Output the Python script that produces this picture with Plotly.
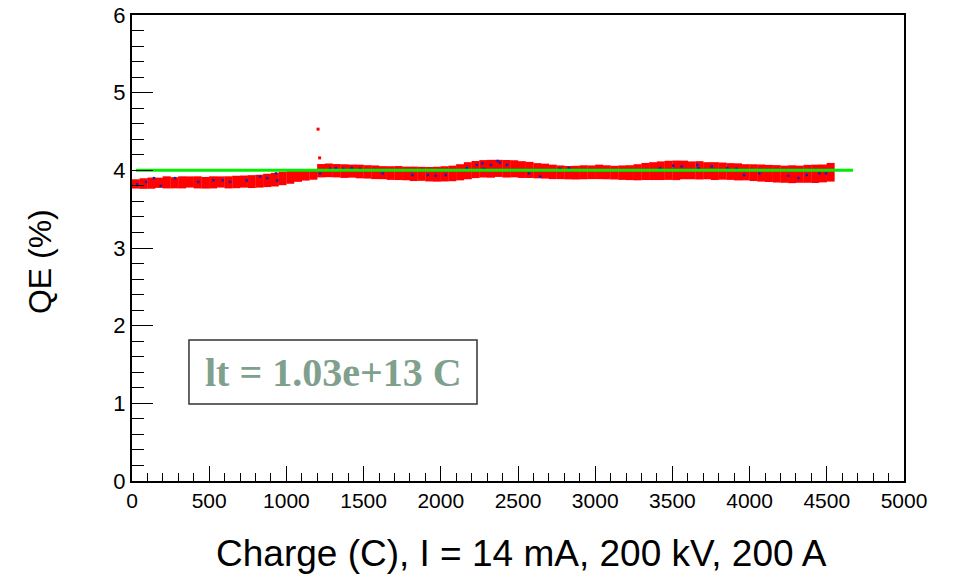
import plotly.graph_objects as go

# Charge (C) sampling positions
charge = list(range(25, 4576, 50))

# QE (%) central values
qe = [
    3.825, 3.83, 3.835, 3.84, 3.845, 3.84, 3.845, 3.85, 3.845, 3.84,
    3.845, 3.85, 3.845, 3.85, 3.855, 3.855, 3.86, 3.87, 3.88, 3.895,
    3.91, 3.93, 3.94, 3.945, 3.995, 4.0, 3.995, 3.99, 3.99, 3.985,
    3.98, 3.975, 3.97, 3.965, 3.965, 3.96, 3.955, 3.955, 3.95, 3.95,
    3.955, 3.96, 3.975, 3.995, 4.01, 4.02, 4.02, 4.025, 4.02, 4.02,
    4.01, 4.005, 3.995, 3.99, 3.98, 3.975, 3.97, 3.97, 3.975, 3.975,
    3.98, 3.975, 3.97, 3.97, 3.97, 3.975, 3.985, 3.99, 3.995, 4.0,
    4.0, 4.005, 4.0, 4.0, 3.995, 3.99, 3.99, 3.985, 3.98, 3.975,
    3.97, 3.965, 3.96, 3.955, 3.95, 3.95, 3.95, 3.955, 3.955, 3.96,
    3.975,
]

# QE spread (half-width of error bars)
qe_err = [
    0.06, 0.068, 0.072, 0.066, 0.078, 0.072, 0.078, 0.072, 0.078, 0.075,
    0.078, 0.072, 0.078, 0.08, 0.078, 0.083, 0.083, 0.086, 0.088, 0.086,
    0.083, 0.078, 0.072, 0.066, 0.086, 0.088, 0.086, 0.088, 0.084, 0.088,
    0.086, 0.088, 0.084, 0.088, 0.09, 0.088, 0.093, 0.09, 0.093, 0.096,
    0.098, 0.1, 0.104, 0.11, 0.11, 0.112, 0.115, 0.11, 0.113, 0.11,
    0.108, 0.104, 0.098, 0.096, 0.093, 0.088, 0.086, 0.088, 0.09, 0.088,
    0.093, 0.09, 0.088, 0.093, 0.096, 0.104, 0.11, 0.115, 0.12, 0.123,
    0.126, 0.12, 0.115, 0.118, 0.11, 0.115, 0.11, 0.108, 0.11, 0.104,
    0.108, 0.11, 0.11, 0.112, 0.11, 0.115, 0.11, 0.115, 0.118, 0.115,
    0.12,
]

# individually visible (blue) point markers
dot_charge = [34, 91, 142, 186, 278, 430, 527, 587, 635, 743, 829, 876, 933, 941,
              1218, 1282, 1321, 1369, 1423, 1477, 1624, 1816, 1915, 1967, 2032,
              2168, 2232, 2269, 2278, 2325, 2368, 2383, 2429, 2571, 2645, 2772,
              2830, 3420, 3506, 3560, 3661, 3668, 3755, 3856, 3916, 3964, 4063,
              4251, 4316, 4370, 4452, 4495]
dot_qe = [3.82, 3.85, 3.90, 3.80, 3.90, 3.85, 3.87, 3.87, 3.85, 3.87, 3.92, 3.90, 3.96, 3.87,
          3.96, 4.02, 4.03, 4.02, 4.03, 4.02, 3.96, 3.94, 3.94, 3.93, 3.94,
          4.03, 4.07, 4.09, 4.02, 4.07, 4.12, 4.10, 4.07, 3.96, 3.92, 4.02,
          4.03, 4.03, 4.06, 4.05, 4.07, 4.03, 4.05, 4.03, 4.02, 3.94, 3.96,
          3.93, 3.90, 3.94, 3.96, 3.96]

# isolated outlier points
outlier_charge = [1205, 1215]
outlier_qe = [4.53, 4.16]

# constant fit
fit_range = [25, 4670]
fit_value = 4.0

box_text = "lt = 1.03e+13 C"
x_title = "Charge (C), I = 14 mA, 200 kV, 200 A"
y_title = "QE (%)"

fig = go.Figure()

fig.add_trace(go.Scatter(
    x=charge, y=qe, mode="markers",
    marker=dict(color="rgba(0,0,0,0)", size=1),
    error_y=dict(type="data", array=qe_err, visible=True,
                 color="#ff0000", thickness=8, width=0),
    showlegend=False,
))

fig.add_trace(go.Scatter(
    x=dot_charge, y=dot_qe, mode="markers",
    marker=dict(color="#2020b0", size=2.5, symbol="square"),
    showlegend=False,
))

fig.add_trace(go.Scatter(
    x=outlier_charge, y=outlier_qe, mode="markers",
    marker=dict(color="#ff0000", size=3, symbol="square"),
    showlegend=False,
))

fig.add_trace(go.Scatter(
    x=fit_range, y=[fit_value, fit_value], mode="lines",
    line=dict(color="#00ee00", width=3),
    showlegend=False,
))

axis_font = dict(family="Liberation Sans, Arial, sans-serif", color="black")

fig.update_layout(
    width=958, height=577,
    margin=dict(l=132, r=54, t=15, b=96, autoexpand=False),
    paper_bgcolor="white", plot_bgcolor="white",
    xaxis=dict(
        range=[0, 5000], dtick=500, tick0=0, automargin=False,
        ticks="inside", ticklen=15, tickwidth=1, tickcolor="black",
        showline=True, linecolor="black", linewidth=2, mirror=True,
        showgrid=False, zeroline=False,
        tickfont=dict(size=21, **axis_font),
        minor=dict(dtick=100, ticks="inside", ticklen=8, tickcolor="black", showgrid=False),
    ),
    yaxis=dict(
        range=[0, 6], dtick=1, tick0=0, automargin=False,
        ticks="inside", ticklen=21, tickwidth=1, tickcolor="black",
        showline=True, linecolor="black", linewidth=2, mirror=True,
        showgrid=False, zeroline=False,
        tickfont=dict(size=22, **axis_font),
        minor=dict(dtick=0.2, ticks="inside", ticklen=12, tickcolor="black", showgrid=False),
    ),
    shapes=[
        dict(type="rect", xref="paper", yref="paper",
             x0=0.0738, x1=0.4469, y0=0.1652, y1=0.3026,
             line=dict(color="#333333", width=1.5), fillcolor="white", layer="above"),
    ],
    annotations=[
        dict(text=box_text, xref="paper", yref="paper", x=0.2604, y=0.2339,
             xanchor="center", yanchor="middle", showarrow=False,
             font=dict(family="Liberation Serif, Times New Roman, serif", size=40,
                       color="#7fa08c", weight="bold")),
        dict(text=x_title, xref="paper", yref="paper", x=0.505, y=-0.155,
             xanchor="center", yanchor="middle", showarrow=False,
             font=dict(size=37, **axis_font)),
        dict(text=y_title, xref="paper", yref="paper", x=-0.119, y=0.47,
             xanchor="center", yanchor="middle", showarrow=False, textangle=-90,
             font=dict(size=32, **axis_font)),
    ],
)

fig.write_html("out.html", config={"displayModeBar": False})

# remove the default page margin so the figure sits at the window origin
with open("out.html", "r", encoding="utf-8") as f:
    html = f.read()
html = html.replace("<body>", '<body style="margin:0;padding:0;overflow:hidden">', 1)
with open("out.html", "w", encoding="utf-8") as f:
    f.write(html)
